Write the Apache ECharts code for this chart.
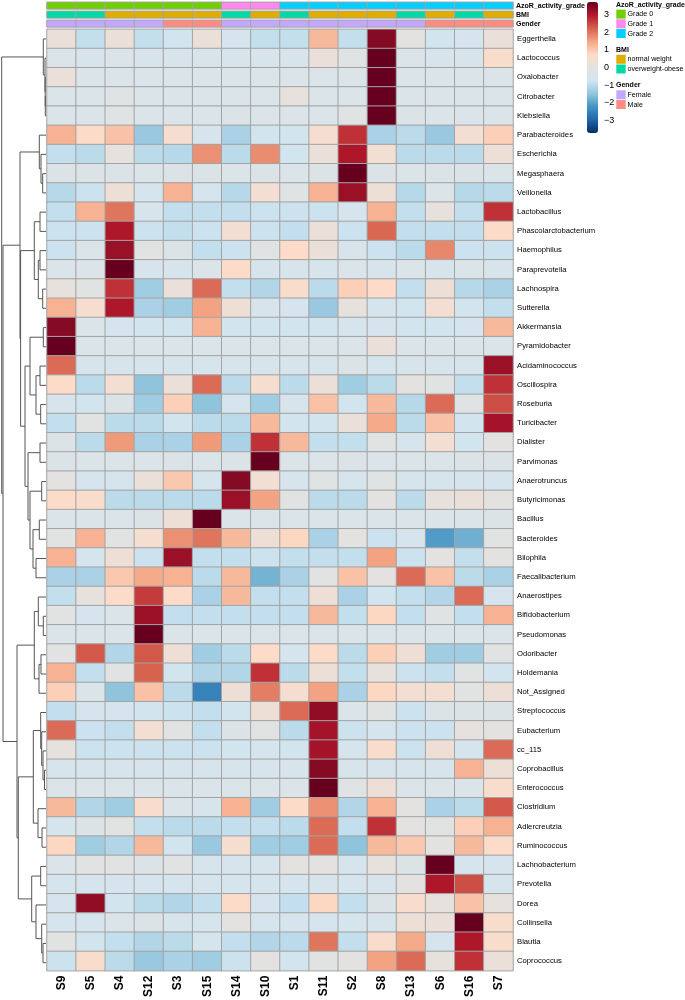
<!DOCTYPE html>
<html><head><meta charset="utf-8">
<script src="https://cdn.jsdelivr.net/npm/echarts@6/dist/echarts.min.js"></script>
<style>html,body{margin:0;padding:0;background:#fff}#c{width:685px;height:1000px}</style>
</head><body><div id="c"></div><script>
const samples = ['S9','S5','S4','S12','S3','S15','S14','S10','S1','S11','S2','S8','S13','S6','S16','S7'];
const taxa = ['Eggerthella','Lactococcus','Oxalobacter','Citrobacter','Klebsiella','Parabacteroides','Escherichia','Megasphaera','Veillonella','Lactobacillus','Phascolarctobacterium','Haemophilus','Paraprevotella','Lachnospira','Sutterella','Akkermansia','Pyramidobacter','Acidaminococcus','Oscillospira','Roseburia','Turicibacter','Dialister','Parvimonas','Anaerotruncus','Butyricimonas','Bacillus','Bacteroides','Bilophila','Faecalibacterium','Anaerostipes','Bifidobacterium','Pseudomonas','Odoribacter','Holdemania','Not_Assigned','Streptococcus','Eubacterium','cc_115','Coprobacillus','Enterococcus','Clostridium','Adlercreutzia','Ruminococcus','Lachnobacterium','Prevotella','Dorea','Collinsella','Blautia','Coprococcus'];
const values = [
[0.2,-0.9,0.2,-0.9,-0.7,0.2,-0.6,-0.9,-0.9,1.2,-0.9,3.4,0.0,-0.7,-0.6,0.2],
[-0.4,-0.5,-0.4,-0.5,-0.5,-0.5,-0.5,-0.5,-0.5,0.2,-0.2,3.7,-0.4,-0.5,-0.5,0.6],
[0.2,-0.4,-0.4,-0.4,-0.4,-0.4,-0.4,-0.4,-0.4,-0.4,-0.4,3.7,-0.4,-0.4,-0.4,-0.4],
[-0.4,-0.4,-0.2,-0.4,-0.4,-0.4,-0.4,-0.4,0.1,-0.4,-0.4,3.7,-0.4,-0.4,-0.4,-0.4],
[-0.4,-0.4,-0.2,-0.4,-0.4,-0.4,-0.3,-0.4,-0.4,-0.4,-0.2,3.7,-0.3,-0.4,-0.4,-0.4],
[1.3,0.7,1.1,-1.4,0.5,-0.6,-1.2,-0.7,-0.7,0.5,2.7,-1.2,-1.0,-1.4,0.4,0.9],
[-0.9,-1.0,0.1,-1.0,-1.05,1.7,-1.0,1.75,-0.7,0.2,3.0,0.4,-1.0,-1.0,-1.0,0.3],
[-0.3,-0.3,-0.3,-0.4,-0.3,-0.3,-0.4,-0.3,-0.4,-0.3,3.7,-0.3,-0.4,-0.3,-0.3,-0.4],
[-1.05,-0.8,0.3,-0.6,1.3,-0.6,-1.05,0.4,-0.2,1.3,3.2,0.3,-1.05,-0.4,-1.05,-1.0],
[-0.9,1.3,2.0,-0.5,-0.9,-0.9,-0.9,-0.8,-0.8,-0.8,-0.6,1.3,-0.9,0.1,-0.9,2.7],
[-0.8,-0.8,3.0,-0.8,-0.9,-0.8,0.4,-0.8,-0.9,0.2,-0.8,2.15,-0.9,-0.9,-0.9,0.7],
[-0.8,-0.4,3.2,-0.1,-0.3,-0.9,-0.8,-0.2,0.7,0.2,-0.5,-0.8,-1.0,1.8,-0.8,-0.8],
[-0.4,-0.4,3.7,-0.5,-0.5,-0.4,0.7,-0.5,-0.5,-0.5,-0.4,-0.5,-0.4,-0.5,-0.4,-0.5],
[0.1,-0.1,2.7,-1.3,0.2,2.1,-0.9,-1.1,0.6,-1.0,0.9,0.7,-0.9,0.3,-1.05,-1.2],
[1.3,0.5,3.0,-1.2,-1.3,1.5,0.3,-0.5,-0.6,-1.4,0.1,-0.6,-0.7,0.4,-0.7,-0.9],
[3.4,-0.4,-0.6,-0.7,-0.7,1.3,-0.7,-0.7,-0.7,-0.7,-0.6,-0.6,-0.7,-0.7,-0.6,1.2],
[3.7,-0.4,-0.4,-0.4,-0.4,-0.4,-0.4,-0.4,-0.4,-0.4,-0.4,0.2,-0.4,-0.4,-0.4,-0.4],
[2.1,-0.5,-0.5,-0.5,-0.5,-0.5,-0.5,-0.5,-0.5,-0.5,-0.3,-0.6,-0.5,-0.5,-0.5,3.2],
[0.7,-1.0,0.4,-1.5,0.2,2.1,-1.0,0.5,-1.0,0.2,-1.3,-1.0,0.0,-0.1,-0.9,2.7],
[-0.5,-0.7,-0.3,-1.3,0.9,-1.5,-0.6,-1.3,-0.5,1.1,-0.7,1.2,-1.05,2.1,-0.2,2.4],
[-0.9,-0.1,-1.0,-1.0,-0.7,-1.0,-1.0,1.2,-0.7,-0.7,0.2,1.4,-1.0,1.1,-0.7,3.1],
[-0.3,-1.0,1.6,-1.2,-1.2,1.6,-1.2,2.7,1.2,-0.9,-0.9,-0.1,-0.6,0.4,-0.7,0.0],
[-0.3,-0.4,-0.4,-0.4,-0.3,-0.4,-0.3,3.7,-0.4,-0.4,-0.3,-0.4,-0.4,-0.4,-0.3,-0.3],
[0.0,-0.6,-0.6,0.2,1.0,-0.6,3.4,0.4,-0.6,-0.2,-0.6,-0.2,-0.6,-0.6,-0.6,-0.6],
[0.7,0.6,-1.0,-1.0,-1.0,-1.0,3.2,1.5,-0.1,-1.0,-1.0,0.0,-1.0,0.1,0.2,0.0],
[-0.4,-0.4,-0.4,-0.3,0.3,3.7,-0.4,-0.4,-0.4,-0.4,-0.4,-0.4,-0.4,-0.4,-0.4,-0.3],
[-0.1,1.3,-0.1,0.5,1.7,2.0,1.2,0.3,0.8,-1.2,0.0,-0.8,-0.6,-2.1,-1.8,-0.1],
[1.3,-0.6,0.3,-0.8,3.2,-0.9,-0.9,-0.8,-0.9,-0.9,-0.9,1.5,-0.8,0.0,-0.9,0.0],
[-1.2,-1.2,1.0,1.4,1.3,-1.0,1.2,-1.75,-1.2,-0.1,1.1,0.0,2.1,1.1,-1.0,-1.2],
[-0.9,0.1,0.7,2.6,0.7,-1.2,1.2,-0.9,-0.9,0.3,-1.2,-0.7,-0.9,-1.1,2.1,-0.6],
[-0.1,-0.6,-0.4,3.2,-0.9,-0.9,-0.9,-0.9,-0.9,1.2,-0.9,0.8,-0.9,-0.2,-0.9,1.3],
[-0.4,-0.4,-0.4,3.7,-0.4,-0.4,-0.4,-0.4,-0.4,-0.4,-0.4,-0.4,-0.4,-0.4,-0.4,-0.4],
[-0.1,2.3,-1.1,2.3,0.3,-1.3,-1.0,0.7,-0.6,0.7,-1.0,0.9,0.3,-1.3,-1.3,-0.1],
[1.3,-0.9,-0.1,2.2,-0.7,-1.1,-1.1,2.7,-1.0,0.3,-0.9,0.1,-0.8,-0.9,-0.2,-0.7],
[0.9,-0.4,-1.5,1.1,-1.0,-2.5,0.3,1.9,0.5,1.5,-1.2,0.8,0.4,0.4,-0.1,0.3],
[-0.9,-0.6,-0.6,-0.7,-0.8,-0.9,-0.7,0.3,2.1,3.3,-0.4,-0.1,-0.8,-0.3,-0.3,-0.3],
[2.1,-0.8,-0.9,0.4,-0.1,-0.9,-0.3,-0.1,-1.0,3.1,-0.8,-0.6,-0.8,-0.8,0.1,0.0],
[0.1,-0.8,-0.8,-0.8,-0.8,-0.8,-0.7,-0.6,-0.7,3.1,-0.6,0.6,-0.8,0.3,-0.6,2.1],
[-0.5,-0.5,-0.5,-0.5,-0.5,-0.5,-0.5,-0.5,-0.5,3.4,-0.5,-0.5,-0.5,-0.5,1.3,0.3],
[-0.4,-0.4,-0.4,-0.4,-0.4,-0.4,-0.4,-0.4,-0.4,3.7,-0.2,0.3,-0.4,-0.4,-0.4,0.6],
[1.2,-1.1,-1.3,0.6,-0.4,-0.5,1.3,-1.3,0.7,1.7,-1.1,1.3,0.0,-1.2,-1.0,2.3],
[-0.6,-0.3,-0.1,-0.9,-1.0,-1.0,-0.9,-0.9,-1.0,2.1,-0.9,2.7,0.0,-0.1,0.9,1.3],
[0.8,-1.3,-1.1,1.2,-0.7,-1.4,0.5,-1.3,-1.3,2.1,-1.5,1.2,1.0,0.0,1.2,0.7],
[-0.4,-0.1,-0.1,-0.3,-0.1,-0.6,-0.6,-0.6,0.0,0.0,-0.6,0.1,-0.3,3.7,-0.6,-0.6],
[-0.6,-0.6,-0.6,-0.6,-0.6,-0.6,-0.6,-0.6,-0.6,-0.5,-0.6,-0.5,0.0,3.0,2.4,-0.6],
[-0.6,3.3,-0.7,-1.0,-1.1,-0.9,0.7,-0.6,-0.9,0.8,-0.9,-0.3,0.6,0.1,1.1,0.1],
[-0.6,-0.6,-0.4,-0.3,-0.5,-0.6,0.0,-0.6,-0.6,-0.6,-0.6,-0.5,0.3,0.2,3.7,0.6],
[-0.1,-0.7,-0.9,-1.1,-1.0,-0.6,-0.9,-1.1,-1.0,2.0,-0.9,0.6,1.4,-0.6,3.0,0.6],
[-0.8,0.6,-1.0,-1.4,-1.2,-1.3,-0.8,0.0,-0.7,-0.1,0.0,1.5,2.1,0.1,2.7,0.2]
];
const azorGrade = ['Grade 0','Grade 0','Grade 0','Grade 0','Grade 0','Grade 0','Grade 1','Grade 1','Grade 2','Grade 2','Grade 2','Grade 2','Grade 2','Grade 2','Grade 2','Grade 2'];
const bmi = ['overweight-obese','overweight-obese','normal weight','normal weight','normal weight','normal weight','overweight-obese','normal weight','overweight-obese','normal weight','normal weight','normal weight','overweight-obese','normal weight','overweight-obese','normal weight'];
const gender = ['Female','Female','Female','Female','Male','Male','Female','Female','Female','Female','Female','Female','Female','Male','Male','Male'];
const azorLevels = ['Grade 0','Grade 1','Grade 2'];
const bmiLevels = ['normal weight','overweight-obese'];
const genderLevels = ['Female','Male'];
// row dendrogram: [mergeHeight, left, right]; leaves are taxa names
const rowTree =
[44.3,
  [2.7,'Eggerthella',[1.0,'Lactococcus',[0.8,'Oxalobacter',[0.7,'Citrobacter','Klebsiella']]]],
  [43,
    [26,
      [6.7,'Parabacteroides',[5,'Escherichia',[3.3,'Megasphaera','Veillonella']]],
      [25.4,
        [11.7,[6,'Lactobacillus','Phascolarctobacterium'],[7.7,[6,'Haemophilus','Paraprevotella'],[3.3,'Lachnospira','Sutterella']]],
        [21,
          [16,[2.7,'Akkermansia','Pyramidobacter'],[10,[6,'Acidaminococcus','Oscillospira'],[5.3,'Roseburia','Turicibacter']]],
          [18,[6,'Dialister','Parvimonas'],[16,[4.3,'Anaerotruncus','Butyricimonas'],[13,[6.7,'Bacillus','Bacteroides'],[10,'Bilophila','Faecalibacterium']]]]
        ]
      ]
    ],
    [29,
      [11.7,[7.7,'Anaerostipes',[2.7,'Bifidobacterium','Pseudomonas']],[7,[5,'Odoribacter','Holdemania'],'Not_Assigned']],
      [27.7,
        [12.7,[5.3,'Streptococcus',[4.3,'Eubacterium',[3,'cc_115',[1.5,'Coprobacillus','Enterococcus']]]],[8,'Clostridium',[4,'Adlercreutzia','Ruminococcus']]],
        [14.3,[5.3,'Lachnobacterium','Prevotella'],[10,'Dorea',[4.3,'Collinsella',[3,'Blautia','Coprococcus']]]]
      ]
    ]
  ]
];
const colorTicks = [-3,-2,-1,0,1,2,3];

const FONT = "'Liberation Sans', Arial, sans-serif";
const azorColors = ['#6FCF00','#FF88EE','#00CFFF'];
const bmiColors = ['#E0AC00','#00D9A6'];
const genderColors = ['#C4A8FF','#FF8C80'];
const rampColors = ['#053061','#2166AC','#4393C3','#92C5DE','#D1E5F0','#E4E2E0','#FDDBC7','#F4A582','#D6604D','#B2182B','#67001F'];

const hmData = [];
values.forEach((row, r) => row.forEach((v, c) => hmData.push([c, r, v])));

const segs = [];
function walk(node) {
  if (typeof node === 'string') return { h: 0, y: taxa.indexOf(node) };
  const A = walk(node[1]), B = walk(node[2]), h = node[0];
  segs.push({ coords: [[A.h, A.y], [h, A.y], [h, B.y], [B.h, B.y]] });
  return { h: h, y: (A.y + B.y) / 2 };
}
walk(rowTree);

const annots = [
  { name: 'AzoR_activity_grade', vals: azorGrade, levels: azorLevels, colors: azorColors, top: 2.3 },
  { name: 'BMI', vals: bmi, levels: bmiLevels, colors: bmiColors, top: 11.3 },
  { name: 'Gender', vals: gender, levels: genderLevels, colors: genderColors, top: 20.3 }
];

const grids = [{ left: 47, top: 29.3, width: 466, height: 943 }];
const xAxes = [{
  type: 'category', data: samples, gridIndex: 0, position: 'bottom',
  axisLine: { show: false }, axisTick: { show: false }, splitLine: { show: false },
  axisLabel: { rotate: 90, margin: 5, fontSize: 12, fontWeight: 'bold', color: '#000', fontFamily: FONT }
}];
const yAxes = [{
  type: 'category', data: taxa, gridIndex: 0, inverse: true, position: 'right',
  axisLine: { show: false }, axisTick: { show: false }, splitLine: { show: false },
  axisLabel: { margin: 4, fontSize: 7.7, color: '#000', fontFamily: FONT }
}];
const series = [{
  type: 'heatmap', xAxisIndex: 0, yAxisIndex: 0, data: hmData, silent: true,
  itemStyle: { borderColor: '#A3A3A3', borderWidth: 1 }
}];
const visualMaps = [{
  type: 'continuous', seriesIndex: 0, min: -3.7, max: 3.7, dimension: 2,
  left: 587, top: 2, itemWidth: 11, itemHeight: 131, padding: 0,
  calculable: false, hoverLink: false, text: null, showLabel: false,
  inRange: { color: rampColors }
}];

annots.forEach((a, i) => {
  const gi = i + 1;
  grids.push({ left: 47, top: a.top, width: 466, height: 6.6 });
  xAxes.push({ type: 'category', data: samples, gridIndex: gi, show: false });
  yAxes.push({
    type: 'category', data: [a.name], gridIndex: gi, position: 'right',
    axisLine: { show: false }, axisTick: { show: false },
    axisLabel: { margin: 3, fontSize: 7, fontWeight: 'bold', color: '#000', fontFamily: FONT }
  });
  series.push({
    type: 'heatmap', xAxisIndex: gi, yAxisIndex: gi, silent: true,
    data: a.vals.map((v, c) => [c, 0, a.levels.indexOf(v)]),
    itemStyle: { borderColor: '#A3A3A3', borderWidth: 1 }
  });
  visualMaps.push({
    type: 'piecewise', show: false, seriesIndex: gi, dimension: 2,
    pieces: a.levels.map((l, k) => ({ value: k, color: a.colors[k] }))
  });
});

// dendrogram grid (4)
grids.push({ left: 0, top: 29.3, width: 46, height: 943 });
xAxes.push({ type: 'value', gridIndex: 4, min: 0, max: 46, inverse: true, show: false });
yAxes.push({ type: 'value', gridIndex: 4, min: -0.5, max: taxa.length - 0.5, inverse: true, show: false });
series.push({
  type: 'lines', coordinateSystem: 'cartesian2d', xAxisIndex: 4, yAxisIndex: 4,
  polyline: true, silent: true, data: segs,
  lineStyle: { color: '#555', width: 1, opacity: 1 }
});

// colour bar tick labels (5)
grids.push({ left: 598, top: 2, width: 1, height: 131 });
xAxes.push({ type: 'category', data: [''], gridIndex: 5, show: false });
yAxes.push({
  type: 'value', gridIndex: 5, min: -3.7, max: 3.7, position: 'right',
  axisLine: { show: false }, axisTick: { show: false }, splitLine: { show: false },
  axisLabel: {
    customValues: colorTicks, margin: 5, fontSize: 9, color: '#000', fontFamily: FONT,
    formatter: v => (v < 0 ? '\u2212' + (-v) : String(v))
  }
});

// categorical legends
const graphics = [];
let yc = 4.8;
annots.forEach(a => {
  graphics.push({ type: 'text', style: { x: 616, y: yc, text: a.name, fontSize: 7, fontWeight: 'bold', fontFamily: FONT, fill: '#000', verticalAlign: 'middle' } });
  let yb = yc + 4.8;
  a.levels.forEach((l, k) => {
    graphics.push({ type: 'rect', shape: { x: 616.3, y: yb, width: 9.4, height: 9 }, style: { fill: a.colors[k] } });
    graphics.push({ type: 'text', style: { x: 627.5, y: yb + 4.7, text: l, fontSize: 7.1, fontFamily: FONT, fill: '#000', verticalAlign: 'middle' } });
    yb += 9.7;
  });
  yc = yb + 11.3;
});

const chart = echarts.init(document.getElementById('c'), null, { renderer: 'canvas' });
chart.setOption({
  animation: false,
  backgroundColor: '#fff',
  textStyle: { fontFamily: FONT },
  grid: grids, xAxis: xAxes, yAxis: yAxes, series: series,
  visualMap: visualMaps, graphic: graphics
});
</script></body></html>
